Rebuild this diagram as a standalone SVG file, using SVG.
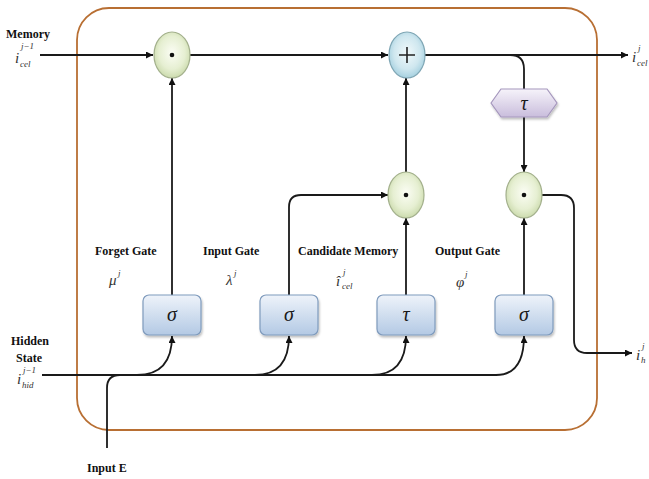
<svg xmlns="http://www.w3.org/2000/svg" width="649" height="479" viewBox="0 0 649 479">
  <defs>
    <radialGradient id="gGreen" cx="50%" cy="45%" r="60%">
      <stop offset="0" stop-color="#fbfdf4"/>
      <stop offset="0.6" stop-color="#e6efd2"/>
      <stop offset="1" stop-color="#c5d6a4"/>
    </radialGradient>
    <radialGradient id="gBlue" cx="50%" cy="45%" r="60%">
      <stop offset="0" stop-color="#f1f9fb"/>
      <stop offset="0.6" stop-color="#cfe7ef"/>
      <stop offset="1" stop-color="#9ccbdc"/>
    </radialGradient>
    <linearGradient id="gBox" x1="0" y1="0" x2="0" y2="1">
      <stop offset="0" stop-color="#eef3fa"/>
      <stop offset="1" stop-color="#b3c9e4"/>
    </linearGradient>
    <linearGradient id="gHex" x1="0" y1="0" x2="0" y2="1">
      <stop offset="0" stop-color="#f6f3fa"/>
      <stop offset="1" stop-color="#c9bddc"/>
    </linearGradient>
    <filter id="shadow" x="-20%" y="-20%" width="140%" height="150%">
      <feDropShadow dx="1" dy="2" stdDeviation="1.2" flood-color="#000" flood-opacity="0.25"/>
    </filter>
    <marker id="arrow" viewBox="0 0 10 10" refX="10" refY="5" markerWidth="8" markerHeight="7" markerUnits="userSpaceOnUse" orient="auto">
      <path d="M0,0 L10,5 L0,10 z" fill="#111"/>
    </marker>
    <style>
      .wire { fill: none; stroke: #1a1a1a; stroke-width: 1.8; }
      .arr { marker-end: url(#arrow); }
      .mul { fill: url(#gGreen); stroke: #a3b08c; stroke-width: 1.2; }
      .add { fill: url(#gBlue); stroke: #7fa6b4; stroke-width: 1.2; }
      .gate { fill: url(#gBox); stroke: #7f9bbd; stroke-width: 1.2; filter: url(#shadow); }
      .hex { fill: url(#gHex); stroke: #a597bd; stroke-width: 1.2; filter: url(#shadow); }
      .lbl { font-family: "Liberation Serif", "Times New Roman", serif; font-weight: bold; font-size: 12px; fill: #111; }
      .sym { font-family: "Liberation Serif", "Times New Roman", serif; font-style: italic; font-size: 20px; fill: #1a1a1a; text-anchor: middle; }
      .var { font-family: "Liberation Serif", "Times New Roman", serif; font-style: italic; font-size: 15px; fill: #333; }
      .scr { font-family: "Liberation Serif", "Times New Roman", serif; font-style: italic; font-size: 9px; fill: #333; }
    </style>
  </defs>

  <rect width="649" height="479" fill="#ffffff"/>

  <!-- cell boundary -->
  <rect id="cell" x="77" y="8" width="520" height="422" rx="32" ry="32" fill="none" stroke="#b86f33" stroke-width="1.8"/>

  <!-- connectors -->
  <g id="connectors">
    <!-- memory path -->
    <path class="wire arr" d="M40,55 H153"/>
    <path class="wire arr" d="M190,55 H388"/>
    <path class="wire arr" d="M425,55 H628"/>
    <!-- memory branch through tanh -->
    <path class="wire" d="M510,55 Q524,55 524,69 V89"/>
    <path class="wire arr" d="M524,117 V172"/>
    <!-- gates to multipliers -->
    <path class="wire arr" d="M172,295 V78"/>
    <path class="wire arr" d="M289,295 V207 Q289,195 301,195 H388"/>
    <path class="wire arr" d="M406,295 V218"/>
    <path class="wire arr" d="M406,172 V78"/>
    <path class="wire arr" d="M524,295 V218"/>
    <!-- hidden output -->
    <path class="wire arr" d="M542,195 H561 Q574,195 574,208 V340 Q574,353 587,353 H632"/>
    <!-- hidden state bus -->
    <path class="wire arr" d="M42,375 H496 Q524,375 524,336"/>
    <path class="wire arr" d="M137,375 Q172,375 172,336"/>
    <path class="wire arr" d="M255,375 Q289,375 289,336"/>
    <path class="wire arr" d="M372,375 Q406,375 406,336"/>
    <!-- external input -->
    <path class="wire" d="M107,448 V388 Q107,375 120,375"/>
  </g>

  <!-- forget multiplier -->
  <g id="mul_forget">
    <ellipse class="mul" cx="172" cy="55" rx="18" ry="23"/>
    <circle cx="172" cy="55" r="2.3" fill="#111"/>
  </g>

  <!-- memory adder -->
  <g id="add_memory">
    <ellipse class="add" cx="407" cy="55" rx="18" ry="23"/>
    <path d="M399,55 H415 M407,47 V63" stroke="#222" stroke-width="1.6" fill="none"/>
  </g>

  <!-- candidate multiplier -->
  <g id="mul_candidate">
    <ellipse class="mul" cx="406" cy="195" rx="18" ry="23"/>
    <circle cx="406" cy="195" r="2.3" fill="#111"/>
  </g>

  <!-- output multiplier -->
  <g id="mul_output">
    <ellipse class="mul" cx="524" cy="195" rx="18" ry="23"/>
    <circle cx="524" cy="195" r="2.3" fill="#111"/>
  </g>

  <!-- tanh on memory -->
  <g id="tanh_memory">
    <polygon class="hex" points="491,103 501,89 547,89 557,103 547,117 501,117"/>
    <text class="sym" x="524" y="110">τ</text>
  </g>

  <!-- gate boxes -->
  <g id="gate_forget">
    <rect class="gate" x="143" y="295" width="58" height="40" rx="6"/>
    <text class="sym" x="172" y="321">σ</text>
  </g>
  <g id="gate_input">
    <rect class="gate" x="260" y="295" width="58" height="40" rx="6"/>
    <text class="sym" x="289" y="321">σ</text>
  </g>
  <g id="gate_candidate">
    <rect class="gate" x="377" y="295" width="58" height="40" rx="6"/>
    <text class="sym" x="406" y="321">τ</text>
  </g>
  <g id="gate_output">
    <rect class="gate" x="495" y="295" width="58" height="40" rx="6"/>
    <text class="sym" x="524" y="321">σ</text>
  </g>

  <!-- labels -->
  <g id="labels">
    <text class="lbl" x="6" y="38">Memory</text>
    <text class="var" x="15" y="63">i</text>
    <text class="scr" x="21" y="49">j−1</text>
    <text class="scr" x="20" y="67">cel</text>

    <text class="var" x="632" y="62">i</text>
    <text class="scr" x="638" y="51">j</text>
    <text class="scr" x="637" y="66">cel</text>

    <text class="lbl" x="11" y="345">Hidden</text>
    <text class="lbl" x="16" y="362">State</text>
    <text class="var" x="17" y="384">i</text>
    <text class="scr" x="23" y="373">j−1</text>
    <text class="scr" x="22" y="388">hid</text>

    <text class="var" x="636" y="360">i</text>
    <text class="scr" x="642" y="349">j</text>
    <text class="scr" x="641" y="363">h</text>

    <text class="lbl" x="87" y="472">Input E</text>

    <text class="lbl" x="95" y="255">Forget Gate</text>
    <text class="var" x="109" y="285">μ</text>
    <text class="scr" x="118" y="276">j</text>

    <text class="lbl" x="203" y="255">Input Gate</text>
    <text class="var" x="226" y="285">λ</text>
    <text class="scr" x="234" y="276">j</text>

    <text class="lbl" x="298" y="255">Candidate Memory</text>
    <text class="var" x="336" y="286">î</text>
    <text class="scr" x="343" y="275">j</text>
    <text class="scr" x="342" y="289">cel</text>

    <text class="lbl" x="435" y="255">Output Gate</text>
    <text class="var" x="456" y="287">φ</text>
    <text class="scr" x="465" y="277">j</text>
  </g>
</svg>
